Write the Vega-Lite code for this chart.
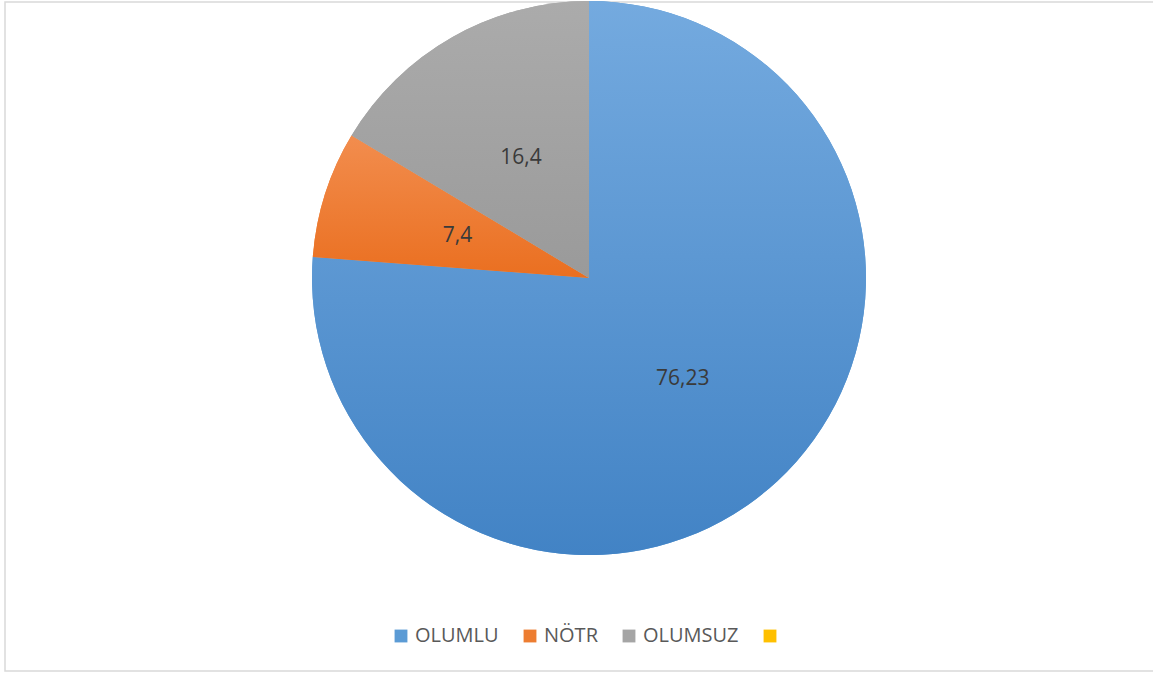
{
  "$schema": "https://vega.github.io/schema/vega-lite/v6.json",
  "width": 1153,
  "height": 675,
  "autosize": {"type": "fit", "contains": "padding"},
  "padding": {"left": 5, "top": 1, "right": -4, "bottom": 4},
  "background": "#ffffff",
  "view": {"stroke": "#d9d9d9", "strokeWidth": 1.5, "fill": "#ffffff"},
  "config": {
    "locale": {"number": {"decimal": ",", "thousands": ".", "grouping": [3], "currency": ["", " ₺"]}}
  },
  "data": {
    "values": [
      {"kategori": "OLUMLU", "oran": 76.23, "sira": 1},
      {"kategori": "NÖTR", "oran": 7.4, "sira": 2},
      {"kategori": "OLUMSUZ", "oran": 16.4, "sira": 3}
    ]
  },
  "encoding": {
    "theta": {"field": "oran", "type": "quantitative", "stack": true},
    "order": {"field": "sira", "type": "quantitative"}
  },
  "layer": [
    {
      "mark": {"type": "arc", "outerRadius": 277, "x": 584, "y": 276},
      "encoding": {
        "color": {
          "field": "kategori",
          "type": "nominal",
          "scale": {
            "domain": ["OLUMLU", "NÖTR", "OLUMSUZ", ""],
            "range": ["#5B9BD5", "#ED7D31", "#A5A5A5", "#FFC000"]
          },
          "legend": {
            "orient": "none",
            "legendX": 386,
            "legendY": 624,
            "direction": "horizontal",
            "title": null,
            "symbolType": "square",
            "symbolSize": 165,
            "symbolStrokeWidth": 0,
            "labelFont": "Open Sans",
            "labelFontSize": 20,
            "labelColor": "#595959",
            "labelOffset": 4,
            "columnPadding": 21
          }
        }
      }
    },
    {
      "mark": {"type": "arc", "outerRadius": 277, "x": 584, "y": 276},
      "encoding": {
        "fill": {
          "condition": [
            {
              "test": "datum.kategori === 'OLUMLU'",
              "value": {"gradient": "linear", "x1": 0, "y1": 0, "x2": 0, "y2": 1,
                "stops": [{"offset": 0, "color": "#74AADF"}, {"offset": 1, "color": "#4283C5"}]}
            },
            {
              "test": "datum.kategori === 'NÖTR'",
              "value": {"gradient": "linear", "x1": 0, "y1": 0, "x2": 0, "y2": 1,
                "stops": [{"offset": 0, "color": "#F28D4E"}, {"offset": 1, "color": "#EA6F20"}]}
            }
          ],
          "value": {"gradient": "linear", "x1": 0, "y1": 0, "x2": 0, "y2": 1,
            "stops": [{"offset": 0, "color": "#ABABAB"}, {"offset": 1, "color": "#9A9A9A"}]}
        }
      }
    },
    {
      "mark": {"type": "text", "radius": 138, "x": 584, "y": 276, "font": "Open Sans", "fontSize": 21, "fill": "#3A3A3A"},
      "encoding": {
        "text": {"field": "oran", "type": "quantitative", "format": "~g"}
      }
    }
  ]
}
